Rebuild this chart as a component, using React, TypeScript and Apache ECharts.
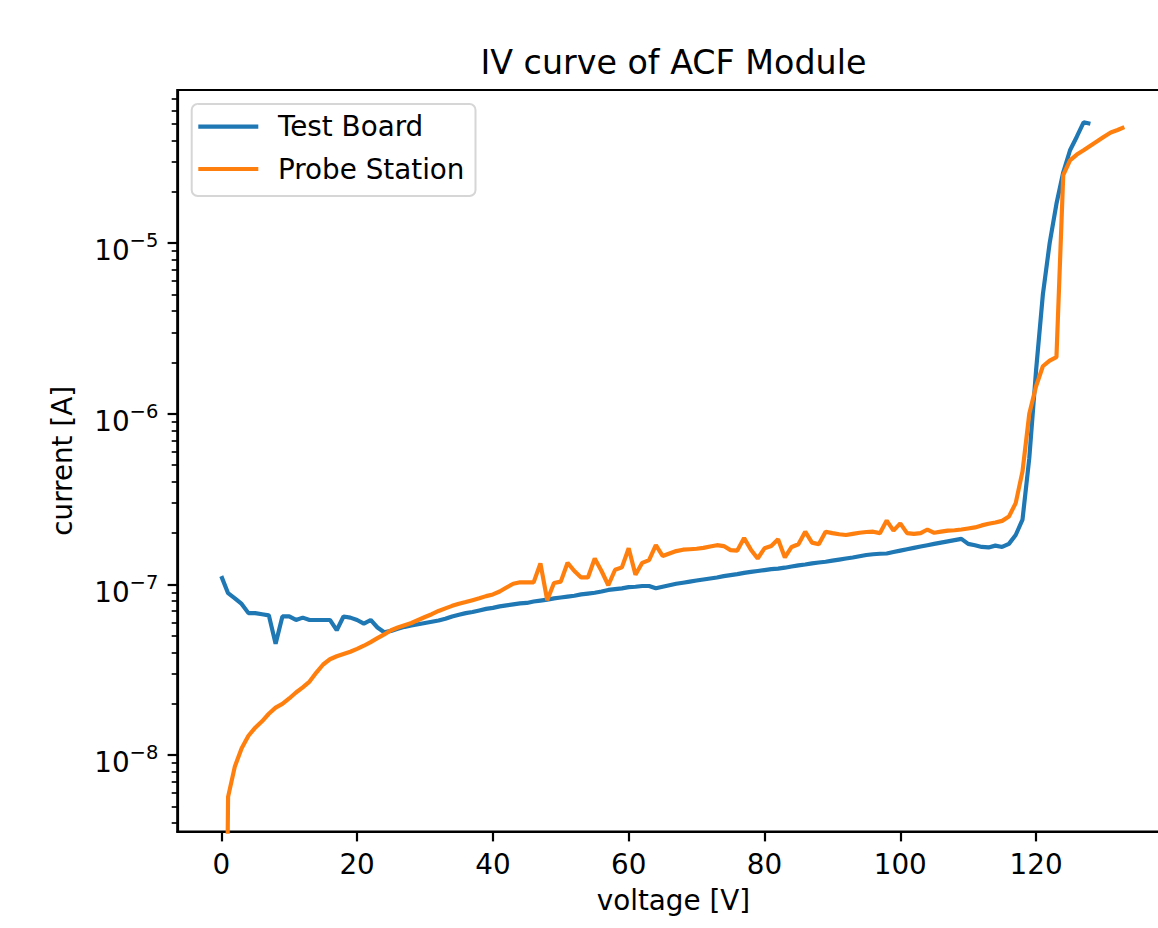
import { useEffect, useRef } from "react";
import * as echarts from "echarts";

const FONT = "DejaVu Sans";

// ---- data ----
const tbVoltage = [
  0, 1, 2, 3, 4, 5, 6, 7, 8, 9, 10, 11, 12, 13, 14, 15, 16, 17, 18, 19,
  20, 21, 22, 23, 24, 25, 26, 27, 28, 29, 30, 31, 32, 33, 34, 35, 36, 37, 38, 39,
  40, 41, 42, 43, 44, 45, 46, 47, 48, 49, 50, 51, 52, 53, 54, 55, 56, 57, 58, 59,
  60, 61, 62, 63, 64, 65, 66, 67, 68, 69, 70, 71, 72, 73, 74, 75, 76, 77, 78, 79,
  80, 81, 82, 83, 84, 85, 86, 87, 88, 89, 90, 91, 92, 93, 94, 95, 96, 97, 98, 99,
  100, 101, 102, 103, 104, 105, 106, 107, 108, 109, 110, 111, 112, 113, 114, 115, 116, 117, 118, 119,
  120, 121, 122, 123, 124, 125, 126, 127, 128,
];
const tbCurrent = [
  1.12e-7, 8.9e-8, 8.3e-8, 7.7e-8, 6.8e-8, 6.8e-8, 6.7e-8, 6.6e-8, 4.5e-8, 6.5e-8,
  6.5e-8, 6.2e-8, 6.4e-8, 6.2e-8, 6.2e-8, 6.2e-8, 6.2e-8, 5.4e-8, 6.5e-8, 6.4e-8,
  6.2e-8, 5.9e-8, 6.2e-8, 5.6e-8, 5.25e-8, 5.35e-8, 5.5e-8, 5.65e-8, 5.75e-8, 5.85e-8,
  5.95e-8, 6.05e-8, 6.15e-8, 6.3e-8, 6.5e-8, 6.65e-8, 6.8e-8, 6.9e-8, 7.05e-8, 7.2e-8,
  7.3e-8, 7.45e-8, 7.55e-8, 7.65e-8, 7.75e-8, 7.8e-8, 7.95e-8, 8.05e-8, 8.15e-8, 8.3e-8,
  8.4e-8, 8.5e-8, 8.6e-8, 8.75e-8, 8.85e-8, 8.95e-8, 9.1e-8, 9.3e-8, 9.4e-8, 9.5e-8,
  9.65e-8, 9.7e-8, 9.8e-8, 9.8e-8, 9.5e-8, 9.7e-8, 9.9e-8, 1.01e-7, 1.025e-7, 1.04e-7,
  1.055e-7, 1.07e-7, 1.085e-7, 1.1e-7, 1.12e-7, 1.135e-7, 1.15e-7, 1.17e-7, 1.185e-7, 1.2e-7,
  1.215e-7, 1.23e-7, 1.24e-7, 1.255e-7, 1.275e-7, 1.295e-7, 1.31e-7, 1.33e-7, 1.345e-7, 1.36e-7,
  1.38e-7, 1.4e-7, 1.42e-7, 1.44e-7, 1.465e-7, 1.49e-7, 1.505e-7, 1.515e-7, 1.52e-7, 1.55e-7,
  1.58e-7, 1.61e-7, 1.64e-7, 1.67e-7, 1.7e-7, 1.73e-7, 1.76e-7, 1.79e-7, 1.82e-7, 1.85e-7,
  1.73e-7, 1.7e-7, 1.66e-7, 1.65e-7, 1.69e-7, 1.66e-7, 1.73e-7, 1.95e-7, 2.4e-7, 5.5e-7,
  1.8e-6, 5.0e-6, 1.0e-5, 1.7e-5, 2.6e-5, 3.5e-5, 4.2e-5, 5.1e-5, 5.0e-5,
];

const psVoltage = [
  0, 1, 2, 3, 4, 5, 6, 7, 8, 9, 10, 11, 12, 13, 14, 15, 16, 17, 18, 19,
  20, 21, 22, 23, 24, 25, 26, 27, 28, 29, 30, 31, 32, 33, 34, 35, 36, 37, 38, 39,
  40, 41, 42, 43, 44, 45, 46, 47, 48, 49, 50, 51, 52, 53, 54, 55, 56, 57, 58, 59,
  60, 61, 62, 63, 64, 65, 66, 67, 68, 69, 70, 71, 72, 73, 74, 75, 76, 77, 78, 79,
  80, 81, 82, 83, 84, 85, 86, 87, 88, 89, 90, 91, 92, 93, 94, 95, 96, 97, 98, 99,
  100, 101, 102, 103, 104, 105, 106, 107, 108, 109, 110, 111, 112, 113, 114, 115, 116, 117, 118, 119,
  120, 121, 122, 123, 124, 125, 126, 127, 128, 129, 130, 131, 132, 133,
];
// the 0 V reading is (close to) zero: it lies far below the visible range
const psCurrent = [
  1e-12, 5.7e-9, 8.6e-9, 1.1e-8, 1.3e-8, 1.45e-8, 1.58e-8, 1.75e-8, 1.9e-8, 2.0e-8,
  2.15e-8, 2.33e-8, 2.5e-8, 2.7e-8, 3.05e-8, 3.4e-8, 3.65e-8, 3.8e-8, 3.92e-8, 4.04e-8,
  4.2e-8, 4.38e-8, 4.6e-8, 4.85e-8, 5.1e-8, 5.4e-8, 5.6e-8, 5.78e-8, 5.95e-8, 6.2e-8,
  6.45e-8, 6.7e-8, 7.0e-8, 7.25e-8, 7.5e-8, 7.72e-8, 7.9e-8, 8.1e-8, 8.3e-8, 8.55e-8,
  8.75e-8, 9.1e-8, 9.6e-8, 1.01e-7, 1.03e-7, 1.03e-7, 1.03e-7, 1.33e-7, 8.1e-8, 1.02e-7,
  1.04e-7, 1.34e-7, 1.2e-7, 1.1e-7, 1.1e-7, 1.42e-7, 1.2e-7, 9.9e-8, 1.22e-7, 1.26e-7,
  1.63e-7, 1.14e-7, 1.34e-7, 1.39e-7, 1.7e-7, 1.47e-7, 1.52e-7, 1.57e-7, 1.6e-7, 1.61e-7,
  1.62e-7, 1.64e-7, 1.67e-7, 1.7e-7, 1.68e-7, 1.59e-7, 1.58e-7, 1.87e-7, 1.6e-7, 1.42e-7,
  1.63e-7, 1.68e-7, 1.84e-7, 1.44e-7, 1.66e-7, 1.72e-7, 2.04e-7, 1.76e-7, 1.72e-7, 2.04e-7,
  2.0e-7, 1.97e-7, 1.95e-7, 1.98e-7, 2.01e-7, 2.03e-7, 2.04e-7, 2.0e-7, 2.37e-7, 2.07e-7,
  2.28e-7, 2.0e-7, 1.98e-7, 2.0e-7, 2.1e-7, 2.01e-7, 2.04e-7, 2.07e-7, 2.08e-7, 2.1e-7,
  2.13e-7, 2.16e-7, 2.22e-7, 2.27e-7, 2.31e-7, 2.36e-7, 2.5e-7, 3.0e-7, 4.6e-7, 1.0e-6,
  1.45e-6, 1.9e-6, 2.05e-6, 2.15e-6, 2.5e-5, 3.05e-5, 3.3e-5, 3.5e-5, 3.72e-5, 3.95e-5,
  4.2e-5, 4.45e-5, 4.6e-5, 4.78e-5,
];

const xTicks = [0, 20, 40, 60, 80, 100, 120];
const yDecades = [-8, -7, -6, -5]; // exponents of the labelled decades
const minorMultipliers = [2, 3, 4, 5, 6, 7, 8, 9];

// axis limits: voltage [V], and log10(current [A])
const X_MIN = -6.48;
const X_MAX = 139.65;
const Y_MIN = -8.448;
const Y_MAX = -4.103;

const minorTicks: number[] = [];
for (let n = -9; n <= -5; n++) {
  for (const k of minorMultipliers) {
    const v = n + Math.log10(k);
    if (v > Y_MIN && v < Y_MAX) minorTicks.push(v);
  }
}

const toPoints = (vs: number[], cs: number[]) => vs.map((v, i) => [v, Math.log10(cs[i])]);

const textBase = { fontFamily: FONT, color: "#000" };

export default function App() {
  const ref = useRef<HTMLDivElement>(null);
  useEffect(() => {
    if (!ref.current) return;
    const chart = echarts.init(ref.current, null, { renderer: "svg" });
    chart.setOption({
      animation: false,
      backgroundColor: "#fff",
      title: {
        text: "IV curve of ACF Module",
        left: 673.4,
        top: 42,
        textAlign: "center",
        padding: 0,
        textStyle: { ...textBase, fontSize: 33.3, fontWeight: "normal", lineHeight: 40 },
      },
      legend: {
        orient: "vertical",
        left: 191.7,
        top: 104,
        itemWidth: 60,
        itemHeight: 4.2,
        itemGap: 12.3,
        icon: "rect",
        padding: [7.7, 11, 12, 6.6],
        backgroundColor: "rgba(255,255,255,0.8)",
        borderColor: "#d6d6d6",
        borderWidth: 2,
        borderRadius: 6,
        textStyle: { ...textBase, fontSize: 27.8, lineHeight: 30, padding: [0, 0, 0, 14.7] },
        data: ["Test Board", "Probe Station"],
      },
      grid: {
        left: 177.3,
        top: 90,
        width: 992.2,
        height: 741.7,
        show: true,
        borderColor: "#000",
        borderWidth: 2.2,
        backgroundColor: "transparent",
        containLabel: false,
      },
      xAxis: {
        type: "value",
        min: X_MIN,
        max: X_MAX,
        name: "voltage [V]",
        nameLocation: "middle",
        nameGap: 55,
        nameTextStyle: { ...textBase, fontSize: 27.8 },
        axisLine: { show: true, onZero: false, lineStyle: { color: "#000", width: 2.2 } },
        axisTick: { show: true, length: 9.7, lineStyle: { color: "#000", width: 2.2 }, customValues: xTicks },
        axisLabel: { ...textBase, fontSize: 27.8, margin: 19, customValues: xTicks },
        splitLine: { show: false },
      },
      yAxis: [
        {
          type: "value",
          min: Y_MIN,
          max: Y_MAX,
          position: "left",
          name: "current [A]",
          nameLocation: "middle",
          nameRotate: 90,
          nameGap: 101,
          nameTextStyle: { ...textBase, fontSize: 27.8 },
          axisLine: { show: true, onZero: false, lineStyle: { color: "#000", width: 2.2 } },
          axisTick: { show: true, length: 9.7, lineStyle: { color: "#000", width: 2.2 }, customValues: yDecades },
          axisLabel: {
            margin: 19,
            padding: [9, 0, 0, 0],
            customValues: yDecades,
            formatter: (v: number) => `{b|10}{s|\u2212${Math.round(-v)}}`,
            rich: {
              b: { ...textBase, fontSize: 27.8, lineHeight: 34, verticalAlign: "bottom" },
              s: { ...textBase, fontSize: 19.5, lineHeight: 22, verticalAlign: "top" },
            },
          },
          splitLine: { show: false },
        },
        {
          type: "value",
          min: Y_MIN,
          max: Y_MAX,
          position: "left",
          axisLine: { show: false, onZero: false },
          axisTick: { show: true, length: 5.6, lineStyle: { color: "#000", width: 1.67 }, customValues: minorTicks },
          axisLabel: { show: false },
          splitLine: { show: false },
        },
      ],
      series: [
        {
          name: "Test Board",
          type: "line",
          data: toPoints(tbVoltage, tbCurrent),
          showSymbol: false,
          symbol: "none",
          clip: true,
          lineStyle: { color: "#1f77b4", width: 4.17 },
          itemStyle: { color: "#1f77b4" },
          z: 3,
        },
        {
          name: "Probe Station",
          type: "line",
          data: toPoints(psVoltage, psCurrent),
          showSymbol: false,
          symbol: "none",
          clip: true,
          lineStyle: { color: "#ff7f0e", width: 4.17 },
          itemStyle: { color: "#ff7f0e" },
          z: 4,
        },
      ],
    });
    return () => chart.dispose();
  }, []);
  return (
    <div
      style={{
        position: "fixed",
        left: 0,
        top: 0,
        width: 1158,
        height: 928,
        overflow: "hidden",
        background: "#fff",
      }}
    >
      <div ref={ref} style={{ width: 1200, height: 928 }} />
    </div>
  );
}
